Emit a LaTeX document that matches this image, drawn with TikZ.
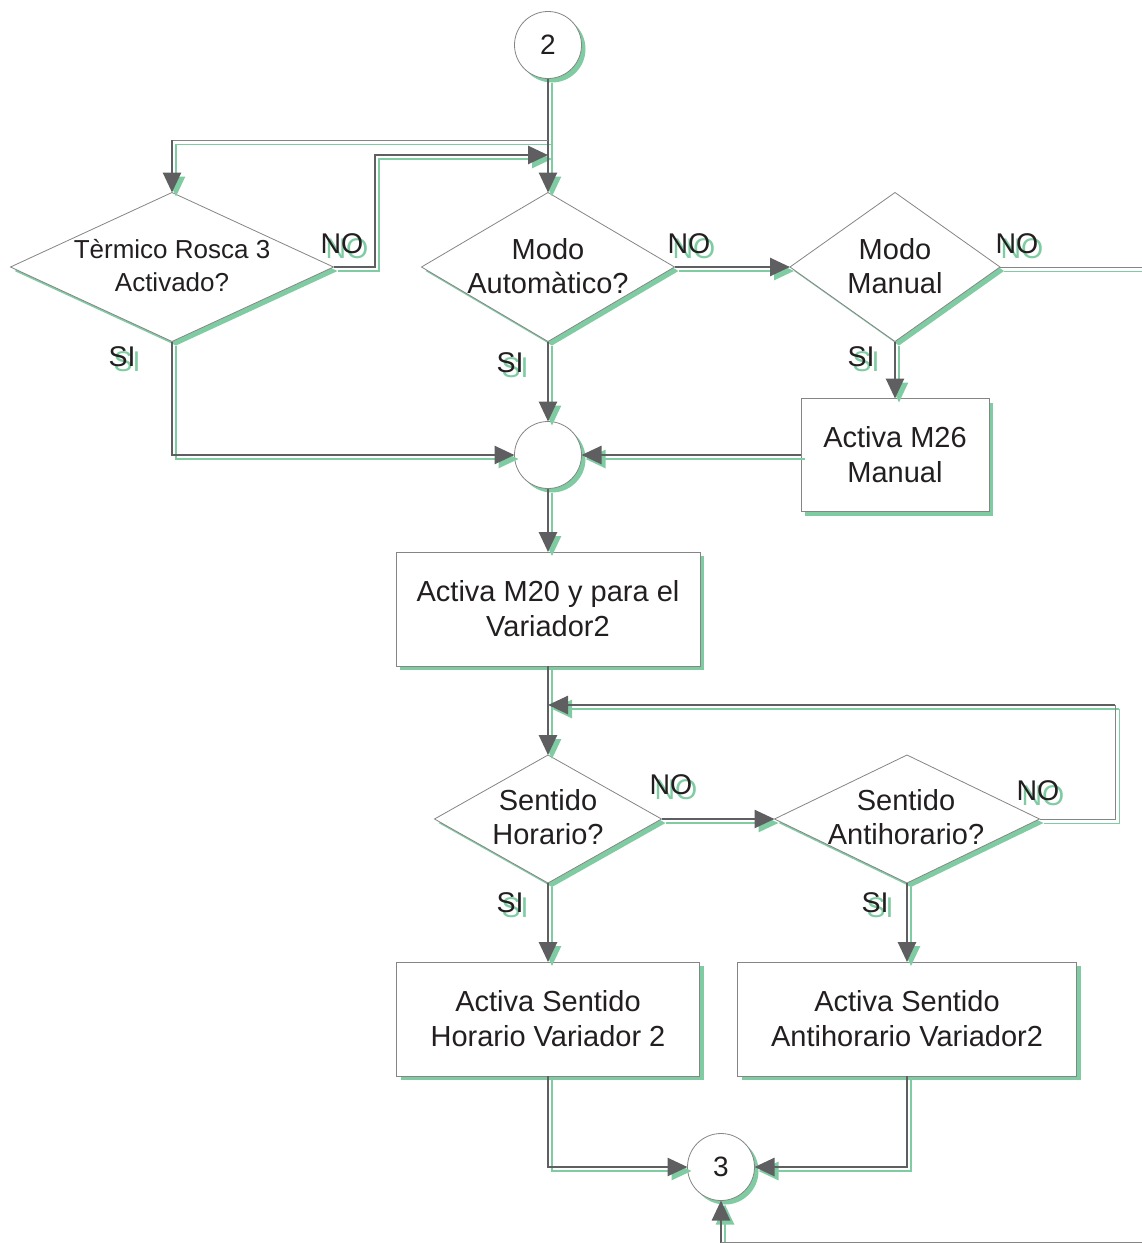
\documentclass[tikz,border=0pt]{standalone}
\usepackage{fontspec}
\setmainfont{Liberation Sans}
\usetikzlibrary{arrows.meta,shapes.geometric,shadows}

\definecolor{sg}{HTML}{7FCCA3}
\definecolor{ln}{HTML}{5F5F61}
\definecolor{bd}{HTML}{858585}
\definecolor{tx}{HTML}{231F20}

% branch label with its green shadow copy set behind it
\newcommand{\shadowword}[1]{\makebox[0pt][l]{\hspace{5pt}\raisebox{-5pt}{\color{sg}#1}}\color{tx}#1}

\begin{document}
\begin{tikzpicture}[x=1pt,y=-1pt,
  shade/.style={drop shadow={shadow xshift=4pt,shadow yshift=-4pt,fill=sg,opacity=1}},
  decision/.style={diamond,draw=bd,line width=0.8pt,fill=white,inner sep=0pt,outer sep=0pt,shade},
  procbox/.style={rectangle,draw=bd,line width=0.8pt,fill=white,inner sep=0pt,outer sep=0pt,shade,
    align=center,text=tx,font=\fontsize{29}{35}\selectfont},
  joint/.style={circle,draw=bd,line width=0.8pt,fill=white,minimum size=67pt,inner sep=0pt,outer sep=0pt,shade,
    text=tx,font=\fontsize{28}{34}\selectfont},
  qtext/.style={align=center,text=tx,font=\fontsize{29}{34}\selectfont,inner sep=0pt},
  yn/.style={font=\fontsize{28.5}{30}\selectfont,inner sep=0pt},
  tip/.style={-{Triangle[length=20pt,width=18pt]}},
  flow/.style={line width=2.7pt,draw=ln},
  flowsh/.style={line width=2.7pt,draw=sg,transform canvas={xshift=4pt,yshift=-4pt}},
  thin/.style={line width=1pt,draw=bd},
  thinsh/.style={line width=1pt,draw=sg,transform canvas={xshift=4pt,yshift=-4pt}},
]
\useasboundingbox (0,0) rectangle (1142,1243);

% ---- nodes ----
\node[joint] (c2) at (548,45) {2};
\node[decision,minimum width=323pt,minimum height=149pt] (term) at (172,267) {};
\node[decision,minimum width=253pt,minimum height=149pt] (auto) at (548,267) {};
\node[decision,minimum width=210pt,minimum height=149pt] (man) at (895,267) {};
\node[procbox,minimum width=188pt,minimum height=113pt] (m26) at (895,455) {Activa M26\\Manual};
\node[joint] (merge) at (548,455) {};
\node[procbox,minimum width=304pt,minimum height=114pt] (m20) at (548,609) {Activa M20 y para el\\Variador2};
\node[decision,minimum width=227pt,minimum height=128pt] (hor) at (548,819) {};
\node[decision,minimum width=265pt,minimum height=128pt] (anti) at (907,819) {};
\node[procbox,minimum width=303pt,minimum height=114pt] (bh) at (548,1019) {Activa Sentido\\Horario Variador 2};
\node[procbox,minimum width=339pt,minimum height=114pt] (ba) at (907,1019) {Activa Sentido\\Antihorario Variador2};
\node[joint] (c3) at (721,1167) {3};

% questions inside the decisions
\node[qtext,font=\fontsize{26}{33}\selectfont] (termq) at (172,266) {Tèrmico Rosca 3\\Activado?};
\node[qtext] (autoq) at (548,266) {Modo\\Automàtico?};
\node[qtext] (manq) at (895,266) {Modo\\Manual};
\node[qtext] (horq) at (548,817) {Sentido\\Horario?};
\node[qtext] (antiq) at (906,817) {Sentido\\Antihorario?};

% ---- helper coordinates for bends and free ends ----
\coordinate (tee) at (548,140);
\coordinate (bend1) at (375,155);
\coordinate (join1) at (548,155);
\coordinate (edge1) at (1142,267);
\coordinate (loop) at (1115,705);
\coordinate (bot) at (721,1243);
\coordinate (botl) at (721,1242);
\coordinate (botr) at (1142,1242);

% ---- connectors: green shadow first, then the grey line ----
\foreach \s/\t in {flowsh/thinsh,flow/thin}{
  \draw[\s,tip] (c2.south) -- (auto.north);
  \draw[\t] (tee) -- (tee -| term.north);
  \draw[\s,tip] (tee -| term.north) -- (term.north);
  \draw[\s,tip] (term.east) -| (bend1) -- (join1);
  \draw[\s,tip] (auto.east) -- (man.west);
  \draw[\t] (man.east) -- (edge1);
  \draw[\s,tip] (man.south) -- (m26.north);
  \draw[\s,tip] (m26.west) -- (merge.east);
  \draw[\s,tip] (term.south) |- (merge.west);
  \draw[\s,tip] (auto.south) -- (merge.north);
  \draw[\s,tip] (merge.south) -- (m20.north);
  \draw[\s,tip] (m20.south) -- (hor.north);
  \draw[\t] (anti.east) -| (loop);
  \draw[\s,tip] (loop) -- (loop -| m20.south);
  \draw[\s,tip] (hor.east) -- (anti.west);
  \draw[\s,tip] (hor.south) -- (bh.north);
  \draw[\s,tip] (anti.south) -- (ba.north);
  \draw[\s,tip] (bh.south) |- (c3.west);
  \draw[\s,tip] (ba.south) |- (c3.east);
  \draw[\s,tip] (bot) -- (c3.south);
  \draw[\t] (botl) -- (botr);
}

% ---- branch labels ----
\foreach \p/\w [count=\i] in {{(342,246)}/NO,{(689,246)}/NO,{(1017,246)}/NO,
    {(122,359)}/SI,{(510,365)}/SI,{(861,359)}/SI,
    {(671,787)}/NO,{(1038,793)}/NO,{(510,905)}/SI,{(875,905)}/SI}{
  \node[yn] (lbl\i) at \p {\shadowword{\w}};
}
\end{tikzpicture}
\end{document}
